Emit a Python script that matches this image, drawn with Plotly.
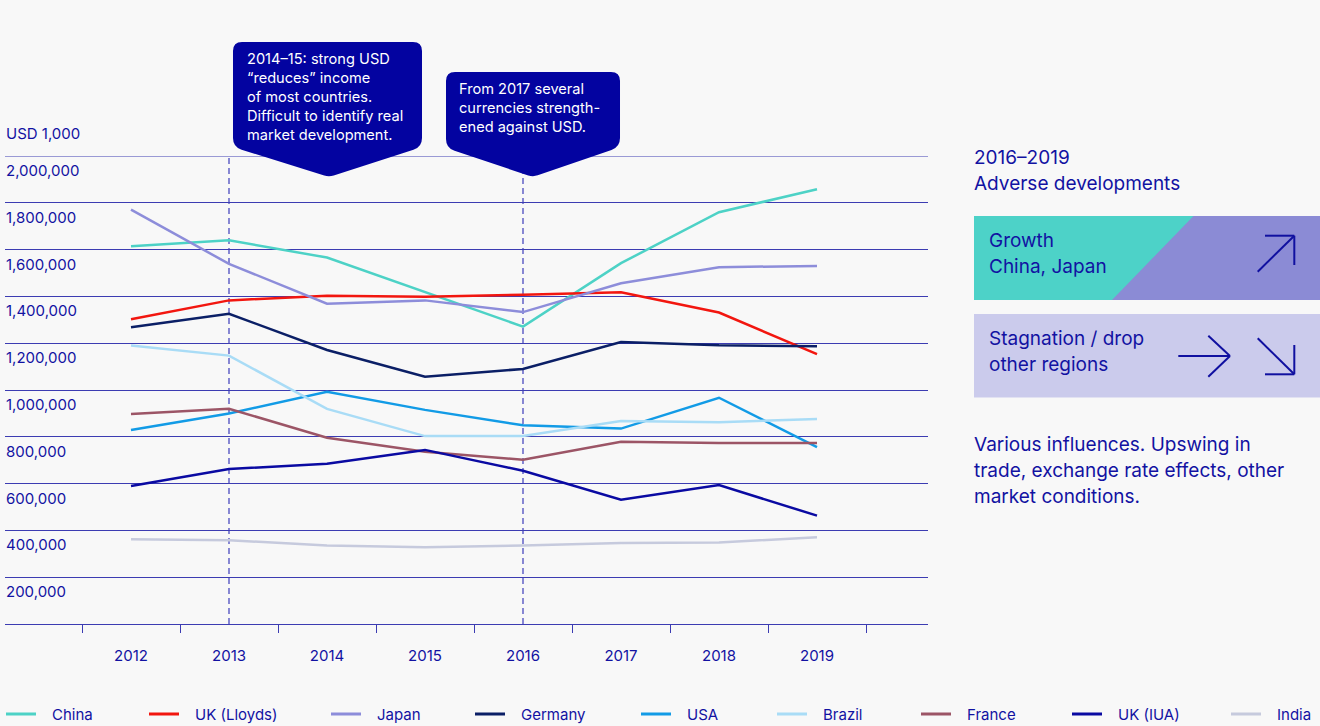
import plotly.graph_objects as go

# ---------------- data ----------------
years = [2012, 2013, 2014, 2015, 2016, 2017, 2018, 2019]
year_labels = ["2012", "2013", "2014", "2015", "2016", "2017", "2018", "2019"]

china = [1614000, 1640000, 1566000, 1420000, 1271000, 1542000, 1760000, 1858000]
uk_lloyds = [1302000, 1383000, 1403000, 1398000, 1407000, 1418000, 1331000, 1153000]
japan = [1771000, 1539000, 1369000, 1383000, 1333000, 1456000, 1525000, 1530000]
germany = [1268000, 1326000, 1171000, 1057000, 1090000, 1205000, 1191000, 1187000]
usa = [829000, 900000, 992000, 915000, 849000, 835000, 967000, 756000]
brazil = [1190000, 1147000, 919000, 803000, 803000, 868000, 862000, 876000]
france = [897000, 920000, 796000, 736000, 702000, 779000, 774000, 774000]
uk_iua = [590000, 662000, 685000, 744000, 655000, 531000, 594000, 463000]
india = [362000, 358000, 335000, 328000, 335000, 346000, 348000, 371000]

series_names = ["China", "UK (Lloyds)", "Japan", "Germany", "USA", "Brazil", "France", "UK (IUA)", "India"]
series_values = [china, uk_lloyds, japan, germany, usa, brazil, france, uk_iua, india]

y_ticks = [200000, 400000, 600000, 800000, 1000000, 1200000, 1400000, 1600000, 1800000, 2000000]
y_tick_labels = ["200,000", "400,000", "600,000", "800,000", "1,000,000", "1,200,000",
                 "1,400,000", "1,600,000", "1,800,000", "2,000,000"]
y_unit = "USD 1,000"
highlight_years = [2013, 2016]

callout1_lines = ["2014–15: strong USD", "“reduces” income", "of most countries.",
                  "Difficult to identify real", "market development."]
callout2_lines = ["From 2017 several", "currencies strength-", "ened against USD."]
panel_title = ["2016–2019", "Adverse developments"]
growth_lines = ["Growth", "China, Japan"]
stag_lines = ["Stagnation / drop", "other regions"]
para_lines = ["Various influences. Upswing in", "trade, exchange rate effects, other",
              "market conditions."]

# ---------------- styles ----------------
series_colors = ["#4dd2c6", "#f2160f", "#8d8dda", "#0b1f66", "#129be6", "#a9dcf6",
                 "#9c5566", "#0a0aa2", "#c6cadd"]
TXT = "#1212a2"
GRID = "#3c3cb2"
BG = "#f8f8f8"
FONT = "Inter"
W, H = 1320, 726
L, R, T, B = 5, 928, 156, 624
legend_x = [6, 149, 331, 475, 641, 777, 921, 1072, 1231]


def px(x):
    return (x - L) / (R - L)


def py(y):
    return (B - y) / (B - T)


def rounded_path(pts, radii):
    n = len(pts)
    segs = []
    for i in range(n):
        p0 = pts[i - 1]
        p1 = pts[i]
        p2 = pts[(i + 1) % n]
        r = radii[i]

        def along(a, b, d):
            dx, dy = b[0] - a[0], b[1] - a[1]
            ln = (dx * dx + dy * dy) ** 0.5
            return (a[0] + dx / ln * d, a[1] + dy / ln * d)
        a = along(p1, p0, r)
        b = along(p1, p2, r)
        segs.append((a, p1, b))
    d = ""
    for i, (a, c, b) in enumerate(segs):
        cmd = "M" if i == 0 else "L"
        d += f"{cmd}{px(a[0]):.5f},{py(a[1]):.5f} Q{px(c[0]):.5f},{py(c[1]):.5f} {px(b[0]):.5f},{py(b[1]):.5f} "
    return d + "Z"


fig = go.Figure()
for name, vals, col in zip(series_names, series_values, series_colors):
    fig.add_trace(go.Scatter(x=years, y=vals, mode="lines", name=name,
                             line=dict(color=col, width=2.5), showlegend=False))

shapes = []
annotations = []

# top gridline (at the edge of the range)
shapes.append(dict(type="line", xref="paper", yref="y", x0=0, x1=1, y0=y_ticks[-1], y1=y_ticks[-1],
                   line=dict(color=GRID, width=1), layer="below"))

# dashed highlight lines
for yr in highlight_years:
    shapes.append(dict(type="line", xref="x", yref="y", x0=yr, x1=yr, y0=0, y1=y_ticks[-1],
                       line=dict(color="#4a4abf", width=1.3, dash="6px,4px"), layer="below"))

# y tick labels (below their gridlines)
for v, lab in zip(y_ticks, y_tick_labels):
    annotations.append(dict(xref="paper", yref="y", x=px(4), y=v, yshift=-3,
                            text=lab, showarrow=False, xanchor="left", yanchor="top",
                            font=dict(family=FONT, size=15, color=TXT)))
annotations.append(dict(xref="paper", yref="paper", x=px(4), y=py(134), text=y_unit,
                        showarrow=False, xanchor="left", yanchor="middle",
                        font=dict(family=FONT, size=15, color=TXT)))

# callouts
CALL = "#0303a0"
shapes.append(dict(type="path", xref="paper", yref="paper", layer="above",
                   path=rounded_path([(233, 42), (422, 42), (422, 147), (329, 177), (233, 147)],
                                     [9, 9, 9, 5, 9]),
                   fillcolor=CALL, line=dict(width=0)))
shapes.append(dict(type="path", xref="paper", yref="paper", layer="above",
                   path=rounded_path([(446, 72), (620, 72), (620, 147), (533, 177), (446, 148)],
                                     [9, 9, 9, 5, 9]),
                   fillcolor=CALL, line=dict(width=0)))
for i, t in enumerate(callout1_lines):
    annotations.append(dict(xref="paper", yref="paper", x=px(245), y=py(59 + 19 * i), text=t,
                            showarrow=False, xanchor="left", yanchor="middle",
                            font=dict(family=FONT, size=14.6, color="white")))
for i, t in enumerate(callout2_lines):
    annotations.append(dict(xref="paper", yref="paper", x=px(457), y=py(89 + 19 * i), text=t,
                            showarrow=False, xanchor="left", yanchor="middle",
                            font=dict(family=FONT, size=14.6, color="white")))


# right panel
def txt(x, y, t, size=19, color=TXT):
    annotations.append(dict(xref="paper", yref="paper", x=px(x), y=py(y), text=t,
                            showarrow=False, xanchor="left", yanchor="middle",
                            font=dict(family=FONT, size=size, color=color)))


txt(972, 157, panel_title[0])
txt(972, 183, panel_title[1])

shapes.append(dict(type="rect", xref="paper", yref="paper", x0=px(974), x1=px(1320),
                   y0=py(300), y1=py(216), fillcolor="#8b8bd5", line=dict(width=0)))
shapes.append(dict(type="path", xref="paper", yref="paper",
                   path=f"M{px(974)},{py(216)} L{px(1193.5)},{py(216)} L{px(1112)},{py(300)} L{px(974)},{py(300)} Z",
                   fillcolor="#4dd2c8", line=dict(width=0)))
shapes.append(dict(type="rect", xref="paper", yref="paper", x0=px(974), x1=px(1320),
                   y0=py(397.5), y1=py(314), fillcolor="#cbcbec", line=dict(width=0)))
txt(987, 240, growth_lines[0])
txt(987, 266, growth_lines[1])
txt(987, 338, stag_lines[0])
txt(987, 364, stag_lines[1])
for i, t in enumerate(para_lines):
    txt(972, 444 + 26 * i, t)

ARW = dict(color="#1010a0", width=2)


def seg(x0, y0, x1, y1):
    shapes.append(dict(type="line", xref="paper", yref="paper", x0=px(x0), y0=py(y0),
                       x1=px(x1), y1=py(y1), line=ARW))


# up-right arrow
seg(1257.7, 271.7, 1294.3, 235.7)
seg(1265, 235.7, 1294.3, 235.7)
seg(1294.3, 235.7, 1294.3, 265)
# right arrow
seg(1178.3, 356, 1230, 356)
seg(1208.3, 335.7, 1230, 356)
seg(1230, 356, 1208.3, 376.7)
# down-right arrow
seg(1257.7, 338.3, 1294.3, 374.3)
seg(1265, 374.3, 1294.3, 374.3)
seg(1294.3, 345, 1294.3, 374.3)

# custom legend
for lx, name, col in zip(legend_x, series_names, series_colors):
    shapes.append(dict(type="line", xref="paper", yref="paper", x0=px(lx), x1=px(lx + 30),
                       y0=py(714), y1=py(714), line=dict(color=col, width=3)))
    annotations.append(dict(xref="paper", yref="paper", x=px(lx + 44), y=py(714), text=name,
                            showarrow=False, xanchor="left", yanchor="middle",
                            font=dict(family=FONT, size=15, color=TXT)))

fig.update_layout(
    width=W, height=H,
    margin=dict(l=L, r=W - R, t=T, b=H - B, pad=0),
    paper_bgcolor=BG, plot_bgcolor=BG,
    showlegend=False,
    hovermode=False,
    shapes=shapes, annotations=annotations,
    xaxis=dict(range=[years[0] - 126 / 98, years[0] + 797 / 98], tickmode="array",
               tickvals=years, ticktext=year_labels, ticks="outside", ticklen=18,
               tickcolor="rgba(0,0,0,0)", showgrid=False, zeroline=False,
               showline=True, linecolor=GRID, linewidth=1,
               tickfont=dict(family=FONT, size=15, color=TXT),
               minor=dict(tickmode="array", tickvals=[y - 0.5 for y in years] + [years[-1] + 0.5],
                          ticks="outside", ticklen=8, tickcolor=GRID, tickwidth=1, showgrid=False)),
    yaxis=dict(range=[0, y_ticks[-1]], tickmode="array", tickvals=y_ticks,
               showticklabels=False, showgrid=True, gridcolor=GRID, gridwidth=1,
               zeroline=False, ticks=""),
)

fig.write_html(
    "out.html",
    config={"displayModeBar": False},
    post_script="document.body.style.margin='0';document.body.style.background='#f8f8f8';"
                "document.documentElement.style.overflow='hidden';",
)
